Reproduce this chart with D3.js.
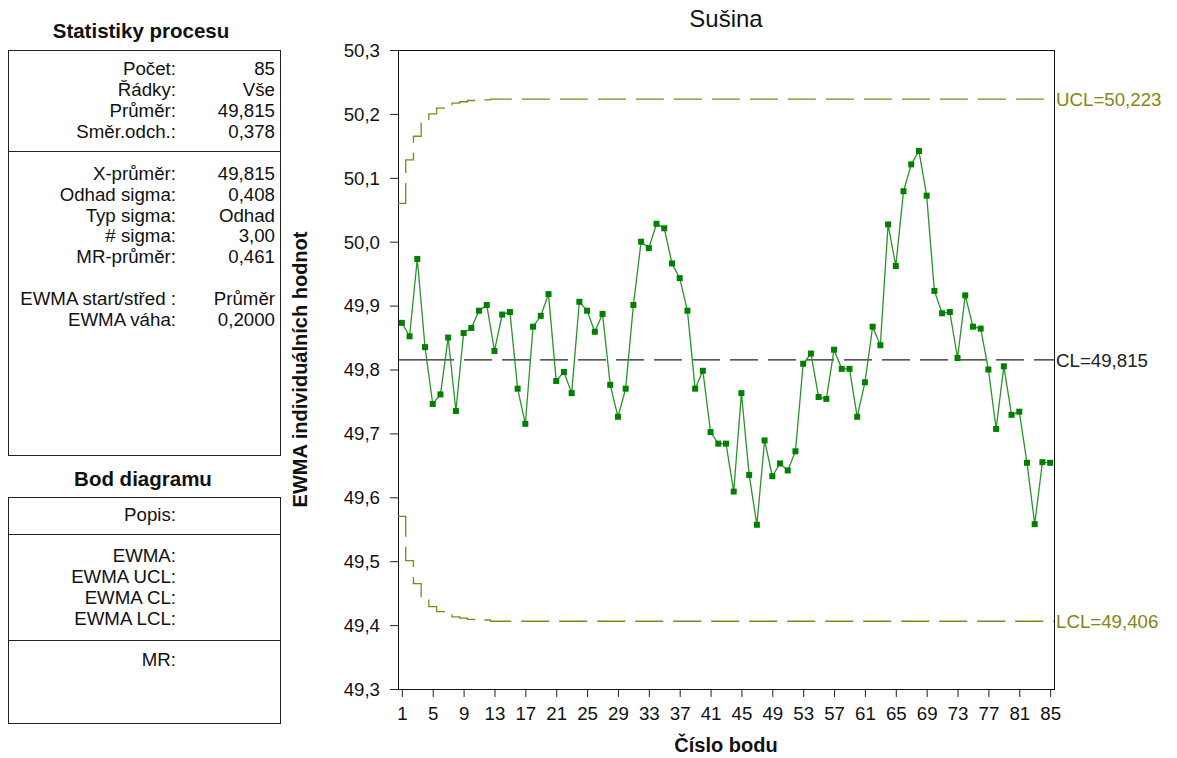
<!DOCTYPE html>
<html><head><meta charset="utf-8">
<script src="https://cdn.jsdelivr.net/npm/d3@7"></script>
<style>
html,body{margin:0;padding:0;background:#fff;}
svg{display:block;font-family:"Liberation Sans",Arial,sans-serif;}
</style></head>
<body>
<script>
// ---- data ----
const title = "Sušina";
const yLabel = "EWMA individuálních hodnot";
const xLabel = "Číslo bodu";
const ewma = [49.873,49.852,49.973,49.835,49.746,49.761,49.850,49.735,49.857,49.865,
  49.892,49.901,49.829,49.886,49.890,49.770,49.715,49.867,49.884,49.918,
  49.782,49.796,49.763,49.906,49.892,49.859,49.887,49.776,49.726,49.770,
  49.901,50.000,49.990,50.028,50.021,49.966,49.943,49.892,49.770,49.798,
  49.702,49.684,49.684,49.609,49.763,49.635,49.557,49.689,49.633,49.653,
  49.642,49.672,49.809,49.825,49.757,49.754,49.831,49.801,49.801,49.726,
  49.780,49.867,49.838,50.027,49.962,50.079,50.121,50.142,50.072,49.923,
  49.888,49.890,49.818,49.916,49.867,49.864,49.800,49.707,49.805,49.729,
  49.734,49.654,49.558,49.655,49.654];
const uclStart = [50.060,50.128,50.165,50.187,50.200,50.209,50.214,50.217,50.219,50.221,50.222,50.222];
const lclStart = [49.570,49.501,49.465,49.443,49.429,49.421,49.416,49.413,49.411,49.409,49.408,49.408];
const uclValue = 50.223, clValue = 49.815, lclValue = 49.406;
const xTicks = [1,5,9,13,17,21,25,29,33,37,41,45,49,53,57,61,65,69,73,77,81,85];
const yTicks = [49.3,49.4,49.5,49.6,49.7,49.8,49.9,50.0,50.1,50.2,50.3];
const limitLabels = ["UCL=50,223","CL=49,815","LCL=49,406"];
const statsRows1 = [["Počet:","85"],["Řádky:","Vše"],["Průměr:","49,815"],["Směr.odch.:","0,378"]];
const statsRows2 = [["X-průměr:","49,815"],["Odhad sigma:","0,408"],["Typ sigma:","Odhad"],["# sigma:","3,00"],["MR-průměr:","0,461"]];
const statsRows3 = [["EWMA start/střed :","Průměr"],["EWMA váha:","0,2000"]];
const pointRows1 = ["Popis:"];
const pointRows2 = ["EWMA:","EWMA UCL:","EWMA CL:","EWMA LCL:"];
const pointRows3 = ["MR:"];

// ---- drawing ----
const W = 1177, H = 758;
const svg = d3.select("body").append("svg").attr("width", W).attr("height", H);
const fs = 18.7;
const olive = "#858514";

const L = 398, R = 1054, T = 50, B = 689;
const x = d3.scaleLinear().domain([0.5, 85.5]).range([L, R]);
const y = d3.scaleLinear().domain([49.3, 50.3]).range([B, T]);
const pts = ewma.map((v, i) => ({i: i + 1, v}));
const ucl = ewma.map((_, i) => i < uclStart.length ? uclStart[i] : uclValue);
const lcl = ewma.map((_, i) => i < lclStart.length ? lclStart[i] : lclValue);

// title
svg.append("text").attr("x", (L + R) / 2).attr("y", 26.5).attr("text-anchor", "middle")
  .attr("font-size", 24).attr("fill", "#111").text(title);

// axes
const yAxis = svg.append("g").attr("transform", `translate(${L},0)`)
  .call(d3.axisLeft(y).tickValues(yTicks).tickSize(8).tickPadding(10)
    .tickFormat(d => d3.format(".1f")(d).replace(".", ",")));
const xAxis = svg.append("g").attr("transform", `translate(0,${B})`)
  .call(d3.axisBottom(x).tickValues(xTicks).tickSize(8).tickPadding(6));
[yAxis, xAxis].forEach(g => {
  g.select(".domain").remove();
  g.selectAll("line").attr("stroke", "#222");
  g.selectAll("text").attr("font-size", fs).attr("font-family", "Liberation Sans, Arial, sans-serif").attr("fill", "#111");
});
yAxis.selectAll("text").attr("dy", "0.34em");
xAxis.selectAll("text").attr("dy", "0.9em");

// frame
svg.append("rect").attr("x", L + 0.5).attr("y", T + 0.5).attr("width", R - L).attr("height", B - T)
  .attr("fill", "none").attr("stroke", "#111").attr("stroke-width", 1);

// axis labels
svg.append("text").attr("transform", `translate(307,${(T + B) / 2}) rotate(-90)`)
  .attr("text-anchor", "middle").attr("font-size", 20).attr("font-weight", "bold").attr("fill", "#111").text(yLabel);
svg.append("text").attr("x", (L + R) / 2).attr("y", 752).attr("text-anchor", "middle")
  .attr("font-size", 20).attr("font-weight", "bold").attr("fill", "#111").text(xLabel);

// limit step lines
const stepLine = d3.line().x(d => x(d[0])).y(d => y(d[1])).curve(d3.curveStepAfter);
function stepData(arr) {
  const d = arr.map((v, i) => [i + 0.5, v]);
  d.push([arr.length + 0.5, arr[arr.length - 1]]);
  return d;
}
[ucl, lcl].forEach(arr => {
  svg.append("path").attr("d", stepLine(stepData(arr))).attr("fill", "none")
    .attr("stroke", olive).attr("stroke-width", 1.3).attr("stroke-dasharray", "28,10");
});
const clDash = "56,10," + d3.range(20).map(() => "28,10").join(",");
svg.append("line").attr("x1", x(0.5)).attr("x2", x(85.5)).attr("y1", y(clValue)).attr("y2", y(clValue))
  .attr("stroke", "#222").attr("stroke-width", 1.2).attr("stroke-dasharray", clDash);

// limit labels
const limY = [uclValue, clValue, lclValue];
const limC = [olive, "#222", olive];
limitLabels.forEach((t, k) => {
  svg.append("text").attr("x", R + 2).attr("y", y(limY[k])).attr("dy", "0.36em")
    .attr("font-size", fs).attr("fill", limC[k]).text(t);
});

// EWMA series
svg.append("path").datum(pts)
  .attr("d", d3.line().x(d => x(d.i)).y(d => y(d.v)))
  .attr("fill", "none").attr("stroke", "#2b932b").attr("stroke-width", 1.3);
svg.append("g").selectAll("rect").data(pts).join("rect")
  .attr("x", d => x(d.i) - 3).attr("y", d => y(d.v) - 3).attr("width", 6).attr("height", 6)
  .attr("fill", "#008000");

// left panels
function box(y0, y1) {
  svg.append("rect").attr("x", 8.5).attr("y", y0 + 0.5).attr("width", 272).attr("height", y1 - y0)
    .attr("fill", "none").attr("stroke", "#222");
}
function hline(yy) {
  svg.append("line").attr("x1", 8.5).attr("x2", 280.5).attr("y1", yy + 0.5).attr("y2", yy + 0.5).attr("stroke", "#222");
}
function rows(list, y0, step) {
  list.forEach((r, k) => {
    const lab = Array.isArray(r) ? r[0] : r;
    svg.append("text").attr("x", 176).attr("y", y0 + k * step).attr("text-anchor", "end")
      .attr("font-size", fs).attr("fill", "#111").text(lab);
    if (Array.isArray(r)) {
      svg.append("text").attr("x", 275).attr("y", y0 + k * step).attr("text-anchor", "end")
        .attr("font-size", fs).attr("fill", "#111").text(r[1]);
    }
  });
}
svg.append("text").attr("x", 141).attr("y", 37.7).attr("text-anchor", "middle")
  .attr("font-size", 20.5).attr("font-weight", "bold").attr("fill", "#111").text("Statistiky procesu");
box(50, 455);
hline(151);
rows(statsRows1, 75, 21);
rows(statsRows2, 180, 20.8);
rows(statsRows3, 305, 20.5);

svg.append("text").attr("x", 143).attr("y", 486).attr("text-anchor", "middle")
  .attr("font-size", 20.5).attr("font-weight", "bold").attr("fill", "#111").text("Bod diagramu");
box(497, 723);
hline(534);
hline(640);
rows(pointRows1, 520.5, 21);
rows(pointRows2, 562, 21);
rows(pointRows3, 666, 21);
</script>
</body></html>
